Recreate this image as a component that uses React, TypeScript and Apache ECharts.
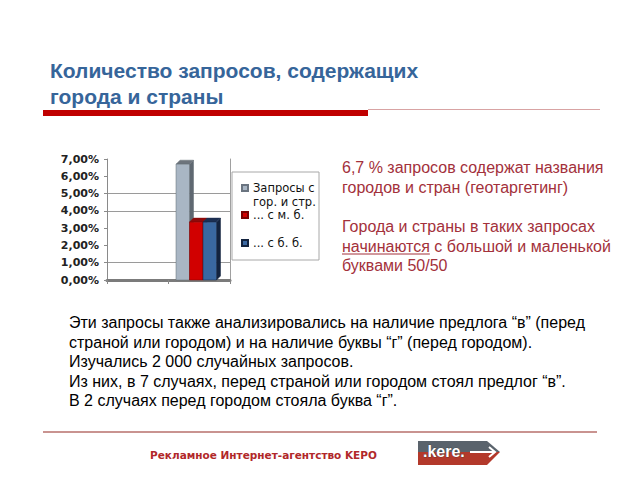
import React, { useEffect, useRef } from "react";
import * as echarts from "echarts";

// ---- data ----
const categories = ["", ""];
const seriesNames = ["Запросы с\nгор. и стр.", "... с м. б.", "... с б. б."];
const grayValues: (number | null)[] = [null, 6.7];
const redValues: (number | null)[] = [null, 3.35];
const blueValues: (number | null)[] = [null, 3.35];
const yMin = 0;
const yMax = 7;
const yInterval = 1;

const titleLines = ["Количество запросов, содержащих", "города и страны"];
const noteLines1 = ["6,7 % запросов содержат названия", "городов и стран (геотаргетинг)"];
const noteLine3 = "Города и страны в таких запросах";
const noteUnderlined = "начинаются";
const noteLine4Rest = " с большой и маленькой";
const noteLine5 = "буквами 50/50";
const bodyLines = [
  "Эти запросы также анализировались на наличие предлога “в” (перед",
  "страной или городом) и на наличие буквы “г” (перед городом).",
  "Изучались 2 000 случайных запросов.",
  "Из них, в 7 случаях, перед страной или городом стоял предлог “в”.",
  "В 2 случаях перед городом стояла буква “г”.",
];
const footerText = "Рекламное Интернет-агентство KEPO";
const logoText = ".kere.";

const SANS = '"Liberation Sans", Arial, sans-serif';
const VERD = '"DejaVu Sans", Verdana, sans-serif';

function measure(text: string, font: string): number {
  const c = document.createElement("canvas").getContext("2d");
  if (!c) return text.length * 8;
  c.font = font;
  return c.measureText(text).width;
}

const BAR_W = 13.5;
const DEPTH = 4;
const GROUP_SHIFT = -3;

function bar3d(seriesIdx: number, front: string, side: string, top: string) {
  return (params: any, api: any) => {
    const cat = api.value(0);
    const v = api.value(1);
    const base = api.coord([cat, 0]);
    const tp = api.coord([cat, v]);
    const x = base[0] + GROUP_SHIFT + (seriesIdx - 1.5) * BAR_W;
    const y0 = base[1];
    const y1 = tp[1];
    const w = BAR_W;
    const d = DEPTH;
    return {
      type: "group",
      children: [
        {
          type: "polygon",
          shape: { points: [[x + w, y1], [x + w + d, y1 - d], [x + w + d, y0 - d], [x + w, y0]] },
          style: { fill: side, stroke: side, lineWidth: 0.5 },
        },
        {
          type: "polygon",
          shape: { points: [[x, y1], [x + d, y1 - d], [x + w + d, y1 - d], [x + w, y1]] },
          style: { fill: top, stroke: top, lineWidth: 0.5 },
        },
        {
          type: "rect",
          shape: { x, y: y1, width: w, height: y0 - y1 },
          style: { fill: front, stroke: side, lineWidth: 0.5 },
        },
      ],
    };
  };
}

export default function App() {
  const ref = useRef<HTMLDivElement>(null);
  useEffect(() => {
    if (!ref.current) return;
    const chart = echarts.init(ref.current, null, { renderer: "svg" });
    const noteColor = "#a3313b";
    const noteFont = `16px ${SANS}`;
    const ulWidth = measure(noteUnderlined, noteFont);
    const noteX = 342;
    const noteYs = [167, 187, 226, 246, 265];
    const bodyYs = [322, 342, 361, 381, 400];

    const textEl = (text: string, x: number, y: number, opts: any = {}) => ({
      type: "text",
      x,
      y,
      silent: true,
      style: {
        text,
        fill: opts.fill || "#000",
        fontSize: opts.fontSize || 16,
        fontFamily: opts.fontFamily || SANS,
        fontWeight: opts.fontWeight || "normal",
        align: opts.align || "left",
        verticalAlign: "middle",
        stroke: opts.stroke,
        lineWidth: opts.lineWidth,
      },
    });

    const graphics: any[] = [
      // title
      ...titleLines.map((t, i) =>
        textEl(t, 50, 70 + i * 26, { fill: "#36659a", fontSize: 21, fontWeight: "bold" })
      ),
      { type: "rect", shape: { x: 43, y: 110, width: 325, height: 6 }, style: { fill: "#c00000" } },
      { type: "line", shape: { x1: 368, y1: 109.5, x2: 600, y2: 109.5 }, style: { stroke: "#d8a3a3", lineWidth: 1 } },
      // right note
      textEl(noteLines1[0], noteX, noteYs[0], { fill: noteColor }),
      textEl(noteLines1[1], noteX, noteYs[1], { fill: noteColor }),
      textEl(noteLine3, noteX, noteYs[2], { fill: noteColor }),
      textEl(noteUnderlined, noteX, noteYs[3], { fill: noteColor }),
      textEl(noteLine4Rest, noteX + ulWidth, noteYs[3], { fill: noteColor }),
      {
        type: "line",
        shape: { x1: noteX, y1: noteYs[3] + 8, x2: noteX + ulWidth, y2: noteYs[3] + 8 },
        style: { stroke: noteColor, lineWidth: 1 },
      },
      textEl(noteLine5, noteX, noteYs[4], { fill: noteColor }),
      // body
      ...bodyLines.map((t, i) => textEl(t, 69, bodyYs[i], { fill: "#000" })),
      // bottom rule
      { type: "line", shape: { x1: 43, y1: 432, x2: 597, y2: 432 }, style: { stroke: "#c99390", lineWidth: 2 } },
      // footer
      textEl(footerText, 150, 455, { fill: "#b1282a", fontSize: 10.5, fontFamily: VERD, fontWeight: "bold" }),
      // logo
      {
        type: "polygon",
        shape: { points: [[418, 441], [487, 441], [500, 452], [418, 452]] },
        style: { fill: "#5a636c" },
      },
      {
        type: "polygon",
        shape: { points: [[418, 452], [500, 452], [487, 465], [418, 465]] },
        style: { fill: "#b3392b" },
      },
      textEl(logoText, 423, 451, { fill: "#fff", fontSize: 16, fontWeight: "bold", stroke: "#333", lineWidth: 0.6 }),
      { type: "line", shape: { x1: 470, y1: 452, x2: 495, y2: 452 }, style: { stroke: "#fff", lineWidth: 2 } },
      {
        type: "polyline",
        shape: { points: [[489, 447], [495, 452], [489, 457]] },
        style: { stroke: "#fff", lineWidth: 2, fill: "none" },
      },
      // legend box
      {
        type: "rect",
        shape: { x: 232, y: 172, width: 87, height: 88 },
        style: { fill: "none", stroke: "#a8a8a8", lineWidth: 1 },
      },
    ];

    const legendCommon = {
      orient: "vertical",
      padding: 0,
      itemWidth: 6,
      itemHeight: 6,
      icon: "rect",
      selectedMode: false,
      textStyle: { fontSize: 11.5, fontFamily: VERD, color: "#111", lineHeight: 14 },
    };

    const gridSplitColors = [
      "transparent",
      "#9a9a9a",
      "transparent",
      "transparent",
      "#9a9a9a",
      "#9a9a9a",
      "transparent",
      "transparent",
    ];

    const toData = (arr: (number | null)[]) =>
      arr.map((v, i) => (v == null ? null : [i, v])).filter((d) => d != null);

    chart.setOption({
      animation: false,
      backgroundColor: "#fff",
      grid: { left: 107, top: 159, width: 123, height: 121 },
      legend: [
        {
          ...legendCommon,
          data: [seriesNames[0]],
          left: 241,
          top: 167,
          formatter: (n: string) => "\n" + n,
        },
        { ...legendCommon, data: [seriesNames[1]], left: 241, top: 208 },
        { ...legendCommon, data: [seriesNames[2]], left: 241, top: 236 },
      ],
      xAxis: {
        type: "category",
        data: categories,
        axisLine: { show: true, lineStyle: { color: "#7b7b7b", width: 3 } },
        axisTick: { show: true, length: 4, lineStyle: { color: "#888", width: 1 } },
        axisLabel: { show: false },
      },
      yAxis: [
        {
          type: "value",
          min: yMin,
          max: yMax,
          interval: yInterval,
          axisLine: { show: true, lineStyle: { color: "#8a8a8a", width: 1 } },
          axisTick: { show: true, length: 3, lineStyle: { color: "#8a8a8a" } },
          axisLabel: {
            fontSize: 11,
            fontFamily: VERD,
            fontWeight: "bold",
            color: "#222",
            margin: 8,
            formatter: (v: number) => v.toFixed(2).replace(".", ",") + "%",
          },
          splitLine: { show: true, lineStyle: { color: gridSplitColors, width: 1 } },
        },
        {
          type: "value",
          position: "right",
          min: yMin,
          max: yMax,
          interval: yInterval,
          axisLine: { show: true, lineStyle: { color: "#a0a0a0", width: 1 } },
          axisTick: { show: false },
          axisLabel: { show: false },
          splitLine: { show: false },
        },
      ],
      series: [
        {
          name: seriesNames[0],
          type: "custom",
          data: toData(grayValues),
          itemStyle: { color: "#a9b6c4", borderColor: "#6a7480", borderWidth: 0.5 },
          renderItem: bar3d(0, "#a9b6c4", "#5f6871", "#6d747c"),
        },
        {
          name: seriesNames[1],
          type: "custom",
          data: toData(redValues),
          itemStyle: { color: "#d10000", borderColor: "#7a0000", borderWidth: 0.5 },
          renderItem: bar3d(1, "#d10000", "#7a0000", "#8e0a0a"),
        },
        {
          name: seriesNames[2],
          type: "custom",
          data: toData(blueValues),
          itemStyle: { color: "#3a68a1", borderColor: "#13233f", borderWidth: 0.5 },
          renderItem: bar3d(2, "#3a68a1", "#13233f", "#1c2f52"),
        },
      ],
      graphic: graphics,
    });
    return () => chart.dispose();
  }, []);

  return (
    <div
      ref={ref}
      style={{ position: "absolute", left: 0, top: 0, width: 640, height: 480, background: "#fff" }}
    />
  );
}
